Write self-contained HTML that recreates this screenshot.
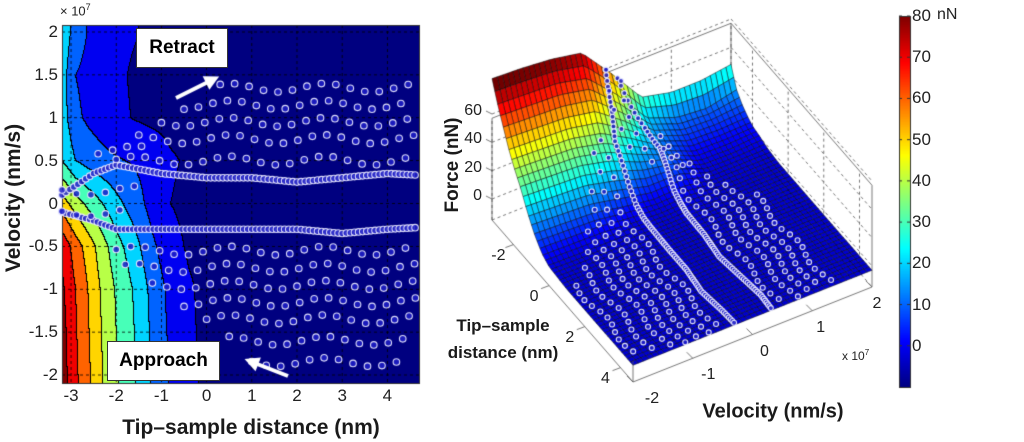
<!DOCTYPE html>
<html><head><meta charset="utf-8"><style>
html,body{margin:0;padding:0;background:#fff;}
#root{position:relative;width:1024px;height:442px;overflow:hidden;font-family:"Liberation Sans",sans-serif;}
.t{position:absolute;white-space:nowrap;color:#222;}
canvas{position:absolute;left:0;top:0;}
.lab{font-weight:bold;color:#1a1a1a;}
.box{position:absolute;background:#fff;border:1px solid #333;font-weight:bold;font-size:19px;display:flex;align-items:center;justify-content:center;}
</style></head><body>
<div id="root">
<canvas id="cv" width="1024" height="442"></canvas>
<div class="t" style="left:60px;top:2px;font-size:13px;">× 10<sup style="font-size:9px">7</sup></div>
<div class="box" style="left:136px;top:28px;width:90px;height:38px;">Retract</div>
<div class="box" style="left:107px;top:341px;width:111px;height:38px;">Approach</div>
<div class="t lab" style="left:14px;top:198px;font-size:21px;transform:translate(-50%,-50%) rotate(-90deg);">Velocity (nm/s)</div>
<div class="t lab" style="left:251px;top:428px;font-size:21px;transform:translate(-50%,-50%);">Tip–sample distance (nm)</div>
<div class="t lab" style="left:453px;top:165px;font-size:19px;transform:translate(-50%,-50%) rotate(-90deg);">Force (nN)</div>
<div class="t lab" style="left:503px;top:326px;font-size:17px;transform:translate(-50%,-50%);">Tip–sample</div>
<div class="t lab" style="left:503px;top:353px;font-size:17px;transform:translate(-50%,-50%);">distance (nm)</div>
<div class="t lab" style="left:773px;top:412px;font-size:20px;transform:translate(-50%,-50%);">Velocity (nm/s)</div>
<div class="t" style="left:842px;top:348px;font-size:12px;">x 10<sup style="font-size:8px">7</sup></div>
<div class="t" style="left:937px;top:6px;font-size:16px;">nN</div>
<div id="labels"></div>
</div>
<script>
// ---- data ----
const velGrid=[-2,-1.5,-1,-0.5,0,0.5,1,1.5,2];
const distGrid=[-3.2,-2.9,-2.6,-2.3,-2.0,-1.6,-1.2,-0.8,-0.4,0,1,2,3,4,4.8];
const forceRowVm2=[85,72,61,50,41,31,19,9,2,-1.5,-3,-3,-3,-3,-3];
const forceRowVm15=[84,71,60,49,40,30,18,8,1.5,-2,-3,-3,-3,-3,-3];
const forceRowVm1=[82,70,59,48,39,29,17,7,1,-2,-3,-3,-3,-3,-3];
const forceRowVm05=[78,65,55,44,34,24,12,3,-1,-2,-3,-3,-3,-3,-3];
const forceRowV0=[55,45,37,30,23,15,6,0,-2,-2.5,-3,-3,-3,-3,-3];
const forceRowV05=[30,20,16,13,11,9,6,1,-1,-2,-3,-3,-3,-3,-3];
const forceRowV1=[25,12,8,5,2,-0.5,-2,-2.5,-3,-3,-3,-3,-3,-3,-3];
const forceRowV15=[25,10,7,4,1.5,-1,-2,-2.5,-3,-3,-3,-3,-3,-3,-3];
const forceRowV2=[28,15,9,5,2,0.5,-1.5,-2.5,-3,-3,-3,-3,-3,-3,-3];
const forceRows=[forceRowVm2,forceRowVm15,forceRowVm1,forceRowVm05,forceRowV0,forceRowV05,forceRowV1,forceRowV15,forceRowV2];
const upperCurveD=[-3.2,-2.5,-2,-1,0,1,2,3,4,4.7];
const upperCurveV=[0.1,0.35,0.45,0.35,0.3,0.3,0.25,0.3,0.35,0.33];
const lowerCurveD=[-3.2,-2.5,-2,-1,0,1,2,3,4,4.7];
const lowerCurveV=[-0.1,-0.2,-0.3,-0.3,-0.3,-0.3,-0.3,-0.35,-0.3,-0.28];
const rowV=[1.35,1.15,0.95,0.75,0.5,-0.55,-0.75,-0.95,-1.15,-1.35,-1.6,-1.85,0.15,-0.1,0.62];
const rowStart=[0.3,-0.5,-1.0,-1.5,-2.0,-2.0,-1.8,-1.2,-0.5,0.0,0.5,1.0,-3.2,-3.2,-2.4];
const rowEnd=[4.5,4.6,4.7,4.7,4.7,4.7,4.7,4.7,4.7,4.6,4.5,4.5,-1.6,-1.8,-1.2];
const xTicks=[-3,-2,-1,0,1,2,3,4];
const yTicks=[2,1.5,1,0.5,0,-0.5,-1,-1.5,-2];
const yTickLabels=['2','1.5','1','0.5','0','-0.5','-1','-1.5','-2'];
const cbTicks=[80,70,60,50,40,30,20,10,0];
const forceTicks=[60,40,20,0];
const distTicks3d=[-2,0,2,4];
const velTicks3d=[-2,-1,0,1,2];

// ---- helpers ----
function idx(g,x){if(x<=g[0])return[0,0];for(let i=1;i<g.length;i++){if(x<=g[i])return[i-1,(x-g[i-1])/(g[i]-g[i-1])];}return[g.length-2,1];}
function F(d,v){const[vi,vt]=idx(velGrid,v),[di,dt]=idx(distGrid,d);
 const r0=forceRows[vi],r1=forceRows[vi+1];
 const a=r0[di]+(r0[di+1]-r0[di])*dt,b=r1[di]+(r1[di+1]-r1[di])*dt;return a+(b-a)*vt;}
function cl(x){return Math.max(0,Math.min(1,x));}
function jet(t){return [cl(1.5-Math.abs(4*t-3)),cl(1.5-Math.abs(4*t-2)),cl(1.5-Math.abs(4*t-1))].map(x=>Math.round(x*255));}
const fmin=-10,fmax=80;
const cv=document.getElementById('cv'),ctx=cv.getContext('2d');
const labels=document.getElementById('labels');
function addLabel(txt,x,y,size,name,align){const e=document.createElement('div');e.className='t';e.textContent=txt;e.style.left=x+'px';e.style.top=y+'px';e.style.fontSize=size+'px';e.style.transform=align==='r'?'translate(-100%,-50%)':align==='l'?'translate(0,-50%)':'translate(-50%,-50%)';


labels.appendChild(e);}

// ---- left contour ----
const L={x0:62,x1:419,y0:25,y1:383};
const X=d=>62+(d+3.2)/7.9*357;
const Y=v=>32+(2-v)*85.75;
const Xi=x=>(x-62)/357*7.9-3.2;
const Yi=y=>2-(y-32)/85.75;
function band(f){return Math.max(0,Math.min(9,Math.floor((f-fmin)/10)));}
const W=L.x1-L.x0,H=L.y1-L.y0;
const img=ctx.createImageData(W,H);
const bands=[];
for(let y=0;y<H;y++){for(let x=0;x<W;x++){bands[y*W+x]=band(F(Xi(x+L.x0),Yi(y+L.y0)));}}
for(let y=0;y<H;y++){for(let x=0;x<W;x++){const b=bands[y*W+x];let c=b>=9?[128,0,0]:jet(b/9);
 if((x<W-1&&bands[y*W+x+1]!==b)||(y<H-1&&bands[(y+1)*W+x]!==b))c=[0,0,0];
 const k=(y*W+x)*4;img.data[k]=c[0];img.data[k+1]=c[1];img.data[k+2]=c[2];img.data[k+3]=255;}}
ctx.putImageData(img,L.x0,L.y0);
ctx.save();ctx.setLineDash([3,3]);ctx.strokeStyle='#000';ctx.lineWidth=0.8;
xTicks.forEach(d=>{ctx.beginPath();ctx.moveTo(X(d),L.y0);ctx.lineTo(X(d),L.y1);ctx.stroke();});
yTicks.forEach(v=>{ctx.beginPath();ctx.moveTo(L.x0,Y(v));ctx.lineTo(L.x1,Y(v));ctx.stroke();});
ctx.restore();
ctx.strokeStyle='#333';ctx.lineWidth=1;ctx.strokeRect(L.x0+0.5,L.y0+0.5,W,H);
xTicks.forEach(d=>addLabel(String(d),X(d),396,17,'left-x-tick','c'));
yTicks.forEach((v,i)=>addLabel(yTickLabels[i],58,Y(v),17,'left-y-tick','r'));

// scatter points
const pts=[];
function curve(ds,vs,step){for(let i=1;i<ds.length;i++){const len=ds[i]-ds[i-1];const n=Math.max(1,Math.round(len/step));for(let j=0;j<n;j++){const t=j/n;pts.push([ds[i-1]+t*len,vs[i-1]+t*(vs[i]-vs[i-1])]);}}}
curve(upperCurveD,upperCurveV,0.09);
curve(lowerCurveD,lowerCurveV,0.09);
rowV.forEach((v,i)=>{for(let d=rowStart[i];d<=rowEnd[i];d+=0.32)pts.push([d,v+0.05*Math.sin(d*3)]);});
function circ(x,y,r){ctx.beginPath();ctx.arc(x,y,r,0,7);ctx.fillStyle='rgba(30,30,200,0.85)';ctx.fill();ctx.strokeStyle='rgba(235,235,255,0.95)';ctx.lineWidth=1.1;ctx.stroke();}
pts.forEach(p=>circ(X(p[0]),Y(p[1]),3.3));

function arrow(x1,y1,x2,y2){ctx.strokeStyle='#fff';ctx.fillStyle='#fff';ctx.lineWidth=4;ctx.beginPath();ctx.moveTo(x1,y1);ctx.lineTo(x2,y2);ctx.stroke();const a=Math.atan2(y2-y1,x2-x1);ctx.beginPath();ctx.moveTo(x2+8*Math.cos(a),y2+8*Math.sin(a));ctx.lineTo(x2+10*Math.cos(a+2.3),y2+10*Math.sin(a+2.3));ctx.lineTo(x2+10*Math.cos(a-2.3),y2+10*Math.sin(a-2.3));ctx.fill();}
arrow(176,98,212,80);arrow(288,376,252,362);

// ---- 3D surface ----
const Lc=[492,220],Fv=[141,162],Rv=[239,-95],kz=1.417,zf=-14.8;
function P(d,v,z){const dn=(d+3.2)/7.9,vn=(v+2)/4;return [Lc[0]+dn*Fv[0]+vn*Rv[0],Lc[1]+dn*Fv[1]+vn*Rv[1]-(z-zf)*kz];}
const zTop=57;
ctx.strokeStyle='#555';ctx.lineWidth=0.8;
function ln(a,b,dash){ctx.setLineDash(dash?[3,3]:[]);ctx.beginPath();ctx.moveTo(a[0],a[1]);ctx.lineTo(b[0],b[1]);ctx.stroke();}
ln(P(-3.2,-2,zf),P(-3.2,-2,zTop));ln(P(-3.2,2,zf),P(-3.2,2,zTop));ln(P(4.7,2,zf),P(4.7,2,zTop));
ln(P(-3.2,-2,zTop),P(-3.2,2,zTop));ln(P(-3.2,2,zTop),P(4.7,2,zTop));
ln(P(-3.2,-2,zf),P(-3.2,2,zf),true);ln(P(-3.2,2,zf),P(4.7,2,zf),true);
forceTicks.forEach(z=>{ln(P(-3.2,-2,z),P(-3.2,2,z),true);ln(P(-3.2,2,z),P(4.7,2,z),true);});
distTicks3d.forEach(d=>{ln(P(d,2,zf),P(d,2,zTop),true);});
velTicks3d.forEach(v=>{ln(P(-3.2,v,zf),P(-3.2,v,zTop),true);});
ctx.setLineDash([]);
const ND=50,NV=46;const quads=[];
for(let i=0;i<ND;i++)for(let j=0;j<NV;j++){const d0=-3.2+7.9*i/ND,d1=-3.2+7.9*(i+1)/ND,v0=-2+4*j/NV,v1=-2+4*(j+1)/NV;quads.push([i/ND-j/NV,d0,d1,v0,v1]);}
quads.sort((a,b)=>a[0]-b[0]);
quads.forEach(q=>{const[,d0,d1,v0,v1]=q;const c=[P(d0,v0,F(d0,v0)),P(d1,v0,F(d1,v0)),P(d1,v1,F(d1,v1)),P(d0,v1,F(d0,v1))];
 const col=jet((F((d0+d1)/2,(v0+v1)/2)-fmin)/(fmax-fmin));
 ctx.beginPath();ctx.moveTo(c[0][0],c[0][1]);for(let k=1;k<4;k++)ctx.lineTo(c[k][0],c[k][1]);ctx.closePath();
 ctx.fillStyle='rgb('+col.join(',')+')';ctx.fill();ctx.strokeStyle='rgba(0,0,0,0.75)';ctx.lineWidth=0.6;ctx.stroke();});
pts.forEach(p=>{const s=P(p[0],p[1],F(p[0],p[1]));circ(s[0],s[1],2.5);});
ctx.strokeStyle='#555';ctx.lineWidth=0.8;
ln(P(-3.2,-2,zf),P(4.7,-2,zf));ln(P(4.7,-2,zf),P(4.7,2,zf));ln(P(4.7,-2,zf),P(4.7,-2,0));
distTicks3d.forEach(d=>{const a=P(d,-2,zf);ln(a,[a[0]-8,a[1]+3]);addLabel(String(d),a[0]-15,a[1]+11,16,'distance-tick-3d','c');});
velTicks3d.forEach(v=>{const a=P(4.7,v,zf);ln(a,[a[0]-6,a[1]-6]);addLabel(String(v),a[0]+3+16-3.5*(v+2),a[1]+17,16,'velocity-tick-3d','c');});
forceTicks.forEach(z=>{const a=P(-3.2,-2,z);ln(a,[a[0]-6,a[1]-3]);addLabel(String(z),a[0]-10,a[1]-3,16,'force-tick','r');});

// ---- colorbar ----
const cb={x:899,w:11,y0:16,y1:387};
for(let y=cb.y0;y<cb.y1;y++){const f=fmax-(y-cb.y0)/(cb.y1-cb.y0)*(fmax-fmin);ctx.fillStyle='rgb('+jet((f-fmin)/(fmax-fmin)).join(',')+')';ctx.fillRect(cb.x,y,cb.w,1);}
ctx.strokeStyle='#333';ctx.lineWidth=1;ctx.strokeRect(cb.x+0.5,cb.y0+0.5,cb.w,cb.y1-cb.y0);
cbTicks.forEach(f=>{const y=cb.y0+(fmax-f)/(fmax-fmin)*(cb.y1-cb.y0);ctx.beginPath();ctx.moveTo(cb.x,y);ctx.lineTo(cb.x+3,y);ctx.moveTo(cb.x+cb.w,y);ctx.lineTo(cb.x+cb.w-3,y);ctx.stroke();addLabel(String(f),912,y,17,'colorbar-tick','l');});
</script>
</body></html>
